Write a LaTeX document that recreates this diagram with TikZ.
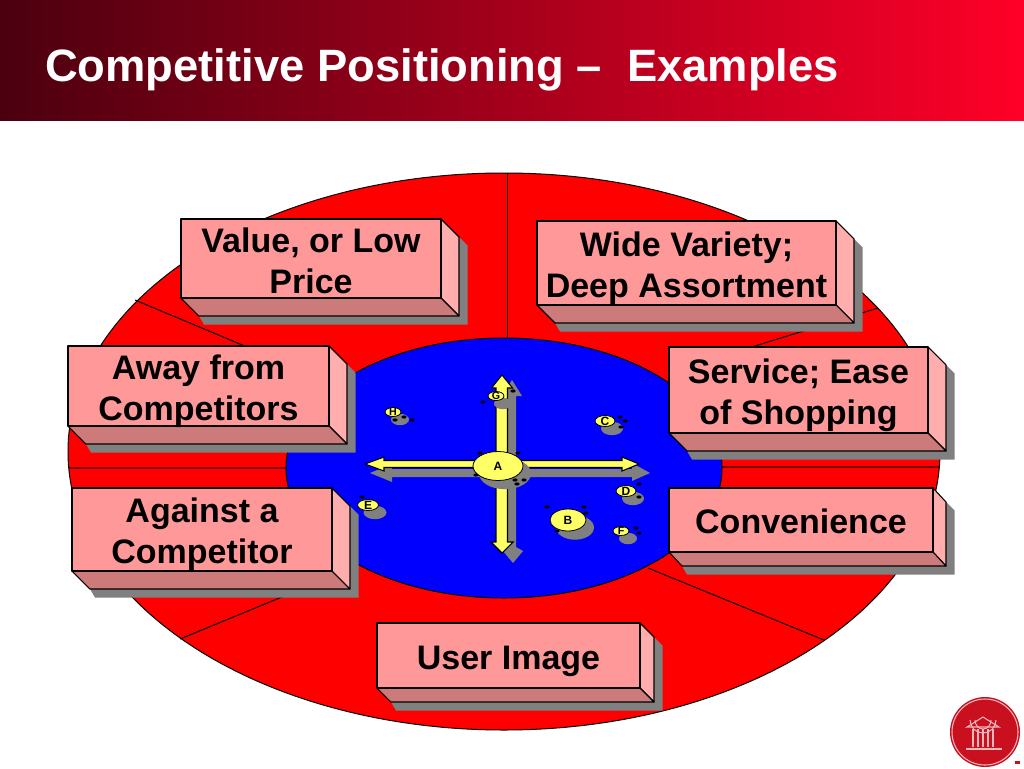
\documentclass[tikz,border=0pt]{standalone}
\usepackage{fontspec}
\setmainfont{Liberation Sans}
\usetikzlibrary{calc}
\definecolor{boxfront}{RGB}{255,153,153}
\definecolor{boxside}{RGB}{255,173,173}
\definecolor{boxbottom}{RGB}{204,122,122}
\definecolor{shadowgray}{RGB}{128,128,128}
\definecolor{disk}{RGB}{255,0,0}
\definecolor{lake}{RGB}{0,0,255}
\definecolor{dotyellow}{RGB}{255,255,102}
\definecolor{logored}{RGB}{200,16,30}
\definecolor{barleft}{RGB}{75,0,15}
\definecolor{barright}{RGB}{255,0,40}
\definecolor{darkline}{RGB}{120,0,0}
\tikzset{
  facet/.style={draw=black,line width=0.8pt,line join=round},
  boxlabel/.style={font=\fontsize{25.5pt}{30.6pt}\selectfont\bfseries,align=center,text=black,inner sep=0pt},
  divider/.style={draw=black,line width=0.75pt},
  thickdivider/.style={draw=darkline,line width=1.2pt},
  yellowshape/.style={fill=dotyellow,draw=black,line width=0.8pt,line join=miter},
  shadowshape/.style={fill=shadowgray},
  bubble/.style={fill=dotyellow,draw=black,line width=0.6pt},
  blackdot/.style={fill=black},
  logoline/.style={draw=white!70!logored,line width=0.8pt}
}
% name, x1,y1,x2,y2, depth x, depth y, text offset, text
\newcommand{\prismbox}[9]{%
  \fill[shadowshape] (#4+#6,#3+#7) -- (#4+#6+8.5,#3+#7+8.5) -- (#4+#6+8.5,#5+#7+8.5) -- (#2+#6+5,#5+#7+8.5) -- (#2+#6,#5+#7) -- cycle;
  \draw[facet,fill=boxside] (#4,#3) -- (#4+#6,#3+#7) -- (#4+#6,#5+#7) -- (#4,#5) -- cycle;
  \draw[facet,fill=boxbottom] (#2,#5) -- (#4,#5) -- (#4+#6,#5+#7) -- (#2+#6,#5+#7) -- cycle;
  \draw[facet,fill=boxfront] (#2,#3) rectangle (#4,#5);
  \node[boxlabel] (#1) at ({(#2+#4)/2},{(#3+#5)/2-1+#8}) {#9};
}
% name, cx, cy, rx, ry, label font size
\newcommand{\bub}[6]{%
  \fill[shadowshape] (#2+7,#3+7.5) ellipse [x radius=#4+1,y radius=#5+1.2];
  \draw[bubble] (#2,#3) ellipse [x radius=#4,y radius=#5];
  \node[inner sep=0pt,font=\fontsize{#6}{#6}\selectfont\bfseries] (#1) at (#2,#3) {#1};
}
\newcommand{\blackdots}[1]{\foreach \dx/\dy in {#1} {\fill[blackdot] (\dx,\dy) ellipse [x radius=2.6,y radius=1.6];}}
\begin{document}
\begin{tikzpicture}[x=0.75pt,y=-0.75pt]
\useasboundingbox (0,0) rectangle (1024,768);
\fill[white] (0,0) rectangle (1024,768);
% title bar
\shade[left color=barleft,right color=barright] (0,0) rectangle (1024,120);
\node[anchor=base west,inner sep=0pt,text=white,font=\fontsize{34pt}{40pt}\selectfont\bfseries] (title) at (45,81) {Competitive Positioning –\ \ Examples};
% disk
\draw[fill=disk,draw=black,line width=0.75pt] (504,451.5) ellipse [x radius=436,y radius=278.5];
\coordinate (topA) at (507,173);
\coordinate (topB) at (507,340);
\coordinate (ulA) at (135,300);
\coordinate (ulB) at (290,365);
\coordinate (urA) at (878,308);
\coordinate (urB) at (690,366);
\coordinate (lA) at (69,468);
\coordinate (lB) at (288,468);
\coordinate (rA) at (720,467);
\coordinate (rB) at (939,467);
\coordinate (llA) at (180,639);
\coordinate (llB) at (340,573);
\coordinate (lrA) at (824,640);
\coordinate (lrB) at (648,568);
\foreach \a/\b in {topA/topB,ulA/ulB,urA/urB,llA/llB,lrA/lrB} {\draw[divider] (\a) -- (\b);}
\foreach \a/\b in {lA/lB,rA/rB} {\draw[thickdivider] (\a) -- (\b);}
% blue
\draw[fill=lake,draw=black,line width=0.75pt] (504,468) ellipse [x radius=218,y radius=130];
% cross shadow
\fill[shadowshape] (370,473) -- (392,464) -- (392,469) -- (632,469) -- (632,463) -- (650,473) -- (632,481) -- (632,477) -- (392,477) -- (392,482) -- cycle;
\fill[shadowshape] (512,380) -- (522,396) -- (516,396) -- (516,547) -- (523,551) -- (513,563) -- (503,551) -- (507,547) -- (507,396) -- (502,396) -- cycle;
% cross
\draw[yellowshape] (502,375) -- (512.5,388) -- (507.5,388) -- (507.5,542) -- (513,542) -- (502,553) -- (491,542) -- (496,542) -- (496,388) -- (491.5,388) -- cycle;
\draw[yellowshape] (365,464) -- (384,457) -- (384,460.5) -- (622,460.5) -- (622,457) -- (639,464) -- (622,471) -- (622,467.5) -- (384,467.5) -- (384,471) -- cycle;
% bubbles
\bub{A}{498}{466}{25}{14.5}{9pt}
\bub{B}{568}{520}{18}{11}{9pt}
\bub{C}{605}{421}{10}{5.5}{9pt}
\bub{D}{626}{491}{10}{5.5}{9pt}
\bub{E}{368}{505}{10.5}{5.5}{9pt}
\bub{F}{621}{531}{8}{4.5}{8pt}
\bub{G}{496}{396}{8}{4.5}{8pt}
\bub{H}{393}{412}{8}{4.5}{8pt}
\blackdots{513/391,483/402,404/417,395/420,412/420,620/417,625/421,621/427,639/484,639/497,362/497,547/507,584/507,586/513,557/531,636/528,639/533,515/480,524/480,517/484,480/453,518/453,476/475}
% boxes
\prismbox{value}{181}{219}{441}{298}{18}{18}{3}{Value, or Low\\Price}
\prismbox{wide}{537}{221}{836}{305}{18}{18}{6}{Wide Variety;\\Deep Assortment}
\prismbox{away}{68}{346}{329}{426}{18}{18}{6}{Away from\\Competitors}
\prismbox{service}{669}{347}{928}{433}{18}{18}{6}{Service; Ease\\of Shopping}
\prismbox{against}{72}{488}{332}{571}{18}{18}{6}{Against a\\Competitor}
\prismbox{conv}{669}{488}{933}{552}{13}{14}{2}{Convenience}
\prismbox{user}{377}{623}{640}{688}{14}{14}{7}{User Image}
% logo
\fill[logored] (985,732) circle [radius=35];
\draw[logoline] (985,732) circle [radius=33];
\draw[logoline] (970,720) arc[start angle=180,end angle=0,x radius=13,y radius=13];
\draw[logoline] (975,720) arc[start angle=180,end angle=0,x radius=8,y radius=9];
\draw[logoline] (967,727) -- (983,717) -- (999,727) -- cycle;
\foreach \bx in {973,978,983,988,993} {\draw[logoline,line width=1.1pt] (\bx,729) -- (\bx,747);}
\draw[logoline,line width=1.1pt] (966,749) -- (1002,749);
\fill[logored] (1015,761) rectangle (1020,764);
\end{tikzpicture}
\end{document}
